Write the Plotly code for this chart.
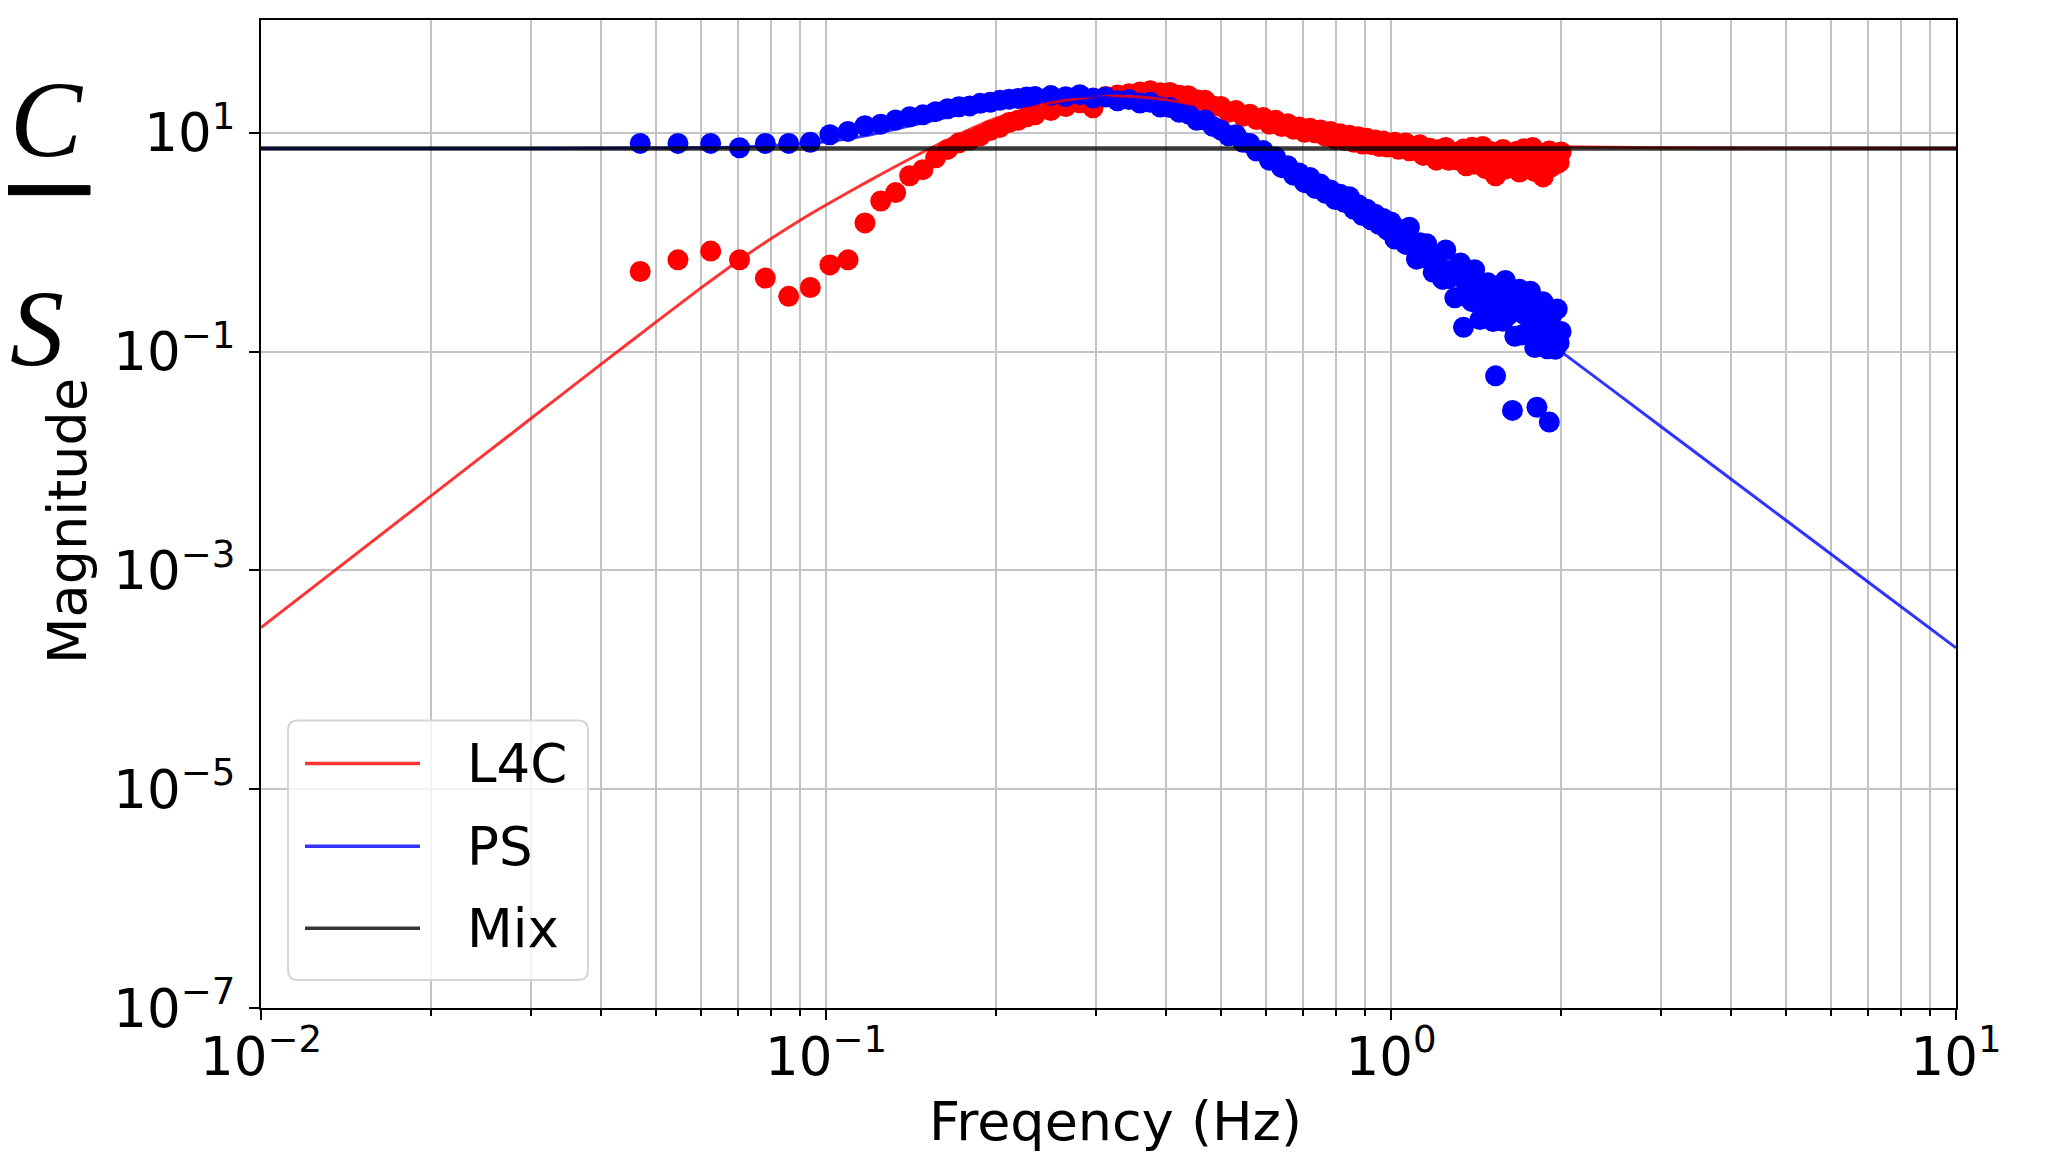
import plotly.graph_objects as go

# ---------------- data ----------------
freq_hz = [
    0.0469, 0.0547, 0.0625, 0.0703, 0.0781, 0.0859, 0.0938, 0.1016, 0.1094, 0.1172,
    0.125, 0.1328, 0.1406, 0.1484, 0.1563, 0.1641, 0.1719, 0.1797, 0.1875, 0.1953,
    0.2031, 0.2109, 0.2188, 0.2266, 0.2344,
    0.25, 0.2656, 0.2813, 0.2969, 0.3125, 0.3281, 0.3438, 0.3594, 0.375, 0.3906,
    0.4063, 0.4219, 0.4375, 0.4531, 0.4688, 0.4844, 0.5, 0.5156, 0.5313, 0.5469,
    0.5625, 0.5781, 0.5938, 0.6094, 0.625, 0.6406, 0.6563, 0.6719, 0.6875, 0.7031,
    0.7188, 0.7344, 0.75, 0.7656, 0.7813, 0.7969, 0.8125, 0.8281, 0.8438, 0.8594,
    0.875, 0.8906, 0.9063, 0.9219, 0.9375, 0.9531, 0.9688, 0.9844,
    1.0, 1.0156, 1.0313, 1.0469, 1.0625, 1.0781, 1.0938, 1.1094, 1.125, 1.1406,
    1.1563, 1.1719, 1.1875, 1.2031, 1.2188, 1.2344, 1.25, 1.2656, 1.2813, 1.2969,
    1.3125, 1.3281, 1.3438, 1.3594, 1.375, 1.3906, 1.4063, 1.4219, 1.4375, 1.4531,
    1.4688, 1.4844, 1.5, 1.5156, 1.5313, 1.5469, 1.5625, 1.5781, 1.5938, 1.6094,
    1.625, 1.6406, 1.6563, 1.6719, 1.6875, 1.7031, 1.7188, 1.7344, 1.75, 1.7656,
    1.7813, 1.7969, 1.8125, 1.8281, 1.8438, 1.8594, 1.875, 1.8906, 1.9063, 1.9219,
    1.9375, 1.9531, 1.9688, 1.9844, 2.0,
]

l4c_measured = [
    0.54, 0.69, 0.83, 0.69, 0.47, 0.32, 0.385, 0.62, 0.69, 1.5,
    2.38, 2.84, 4.05, 4.6, 5.9, 7.05, 8.1, 8.6, 9.4, 10.5,
    11.2, 12.4, 13.0, 14.0, 14.6,
    16.0, 17.4, 18.8, 16.9, 21.5, 22.2, 22.8, 23.6, 24.2, 23.2,
    23.4, 22.0, 21.8, 20.0, 19.8, 17.6, 17.4, 15.4, 16.0, 14.2,
    14.8, 13.2, 13.8, 12.0, 13.0, 11.4, 12.1, 10.8, 11.3, 10.1,
    11.0, 10.0, 10.6, 9.3, 10.3, 8.7, 9.8, 8.5, 9.5, 8.2,
    9.2, 7.9, 8.9, 7.8, 8.6, 7.5, 8.4, 7.4,
    7.64, 8.20, 7.06, 7.64, 8.05, 6.84, 7.46, 6.97, 7.76, 6.21,
    6.84, 7.24, 6.31, 5.62, 7.05, 6.45, 7.35, 5.61, 6.67, 6.03,
    5.64, 5.69, 7.10, 5.00, 6.31, 7.36, 5.16, 6.50, 5.71, 7.50,
    4.70, 5.92, 6.73, 5.30, 4.05, 6.50, 5.69, 7.03, 4.67, 6.11,
    5.33, 4.90, 5.03, 6.78, 4.37, 5.90, 7.14, 4.71, 6.21, 5.40,
    7.33, 4.42, 5.69, 6.52, 5.16, 3.95, 6.35, 5.65, 6.82, 4.89,
    6.12, 5.53, 5.22, 5.36, 6.68,
]

ps_measured = [
    8.0, 8.0, 8.0, 7.3, 8.0, 8.0, 8.2, 9.6, 10.3, 11.6,
    12.0, 13.1, 14.0, 14.6, 15.6, 16.6, 17.3, 17.6, 18.6, 19.0,
    19.8, 20.3, 20.6, 21.2, 21.5,
    21.9, 21.4, 22.3, 20.8, 21.2, 19.6, 20.1, 18.7, 19.0, 17.2,
    17.0, 15.4, 14.9, 13.0, 13.1, 11.4, 10.6, 9.4, 9.6, 8.2,
    8.0, 6.8, 6.9, 5.6, 6.0, 4.8, 5.0, 4.1, 4.3, 3.5,
    3.9, 3.1, 3.4, 2.8, 3.0, 2.45, 2.75, 2.3, 2.6, 2.0,
    2.2, 1.75, 2.0, 1.6, 1.8, 1.45, 1.65, 1.3,
    1.53, 1.07, 1.20, 1.30, 0.955, 1.37, 0.94, 0.70, 0.99, 0.72,
    0.97, 0.74, 0.53, 0.74, 0.59, 0.457, 0.85, 0.465, 0.555, 0.31,
    0.60, 0.644, 0.167, 0.41, 0.49, 0.286, 0.56, 0.30, 0.196, 0.36,
    0.237, 0.425, 0.298, 0.188, 0.060, 0.341, 0.252, 0.189, 0.447, 0.213,
    0.278, 0.029, 0.138, 0.333, 0.371, 0.142, 0.219, 0.293, 0.153, 0.357,
    0.176, 0.109, 0.031, 0.23, 0.142, 0.285, 0.188, 0.106, 0.0227, 0.212,
    0.144, 0.105, 0.245, 0.12, 0.153,
]

l4c_model_freq = [0.01, 0.02, 0.03, 0.04, 0.05, 0.06, 0.07, 0.08, 0.09, 0.1, 0.12, 0.15,
                  0.18, 0.2, 0.25, 0.3, 0.35, 0.4, 0.5, 0.6, 0.7, 0.8, 1.0, 1.3, 1.6, 2.0,
                  3.0, 5.0, 10.0]
l4c_model = [3.0e-4, 4.8e-3, 0.0243, 0.0768, 0.186, 0.38, 0.678, 1.08, 1.59, 2.19, 3.71, 6.85,
             10.8, 13.6, 18.8, 21.3, 21.5, 20.0, 16.0, 13.0, 11.0, 9.8, 8.6, 7.9, 7.6, 7.45,
             7.3, 7.22, 7.2]

ps_model_freq = [0.01, 0.03, 0.05, 0.07, 0.1, 0.12, 0.15, 0.2, 0.25, 0.3, 0.35, 0.4, 0.5,
                 0.6, 0.7, 0.8, 1.0, 1.3, 1.6, 2.0, 3.0, 5.0, 7.0, 10.0]
ps_model = [7.2, 7.2, 7.25, 7.4, 8.3, 9.6, 12.5, 17.5, 21.0, 21.5, 19.5, 16.5, 10.5,
            6.3, 4.0, 2.7, 1.35, 0.52, 0.235, 0.1, 0.0208, 2.87e-3, 7.8e-4, 1.96e-4]

mix_freq = [0.01, 10.0]
mix_model = [7.2, 7.2]

series_names = ["L4C", "PS", "Mix"]
x_tick_vals = [0.01, 0.1, 1, 10]
x_tick_text = ["10<sup>−2</sup>", "10<sup>−1</sup>", "10<sup>0</sup>", "10<sup>1</sup>"]
x_minor_vals = [m * d for d in (0.01, 0.1, 1.0) for m in range(2, 10)]
y_tick_vals = [1e-7, 1e-5, 1e-3, 1e-1, 10]
y_tick_text = ["10<sup>−7</sup>", "10<sup>−5</sup>", "10<sup>−3</sup>", "10<sup>−1</sup>", "10<sup>1</sup>"]

# ---------------- layout geometry (page pixels; page has an 8px body margin) ----------------
OFF = 8
W, H = 2049 - OFF, 1155 - OFF
ML, MR, MT, MB = 261 - OFF, 93, 18 - OFF, 147
PW = W - ML - MR
PH = H - MT - MB


def px(x):
    return (x - OFF - ML) / PW


def py(y):
    return (H - MB - (y - OFF)) / PH


FONT = "DejaVu Sans"
FS = 53
FT = 54
RED_L = "rgba(255,0,0,0.8)"
BLUE_L = "rgba(0,0,255,0.8)"
BLACK_L = "rgba(0,0,0,0.78)"

fig = go.Figure()
fig.add_trace(go.Scatter(x=freq_hz, y=l4c_measured, mode="markers",
                         marker=dict(color="#ff0000", size=21, line=dict(width=0)),
                         showlegend=False, name="L4C data"))
fig.add_trace(go.Scatter(x=freq_hz, y=ps_measured, mode="markers",
                         marker=dict(color="#0000ff", size=21, line=dict(width=0)),
                         showlegend=False, name="PS data"))
fig.add_trace(go.Scatter(x=l4c_model_freq, y=l4c_model, mode="lines",
                         line=dict(color=RED_L, width=3, shape="spline", smoothing=0.6),
                         showlegend=False, name=series_names[0]))
fig.add_trace(go.Scatter(x=ps_model_freq, y=ps_model, mode="lines",
                         line=dict(color=BLUE_L, width=3, shape="spline", smoothing=0.6),
                         showlegend=False, name=series_names[1]))
fig.add_trace(go.Scatter(x=mix_freq, y=mix_model, mode="lines",
                         line=dict(color=BLACK_L, width=4.5),
                         showlegend=False, name=series_names[2]))

grid_c = "#c4c4c4"
fig.update_xaxes(type="log", range=[-2, 1], tickmode="array", tickvals=x_tick_vals,
                 ticktext=x_tick_text, ticks="outside", ticklen=10, tickwidth=2,
                 tickcolor="black", showgrid=True, gridcolor=grid_c, gridwidth=2,
                 showline=True, linecolor="black", linewidth=2, mirror=True,
                 tickfont=dict(family=FONT, size=FS, color="black"),
                 ticklabelstandoff=-9,
                 minor=dict(tickmode="array", tickvals=x_minor_vals, ticks="outside",
                            ticklen=6, tickwidth=1.5, tickcolor="black", showgrid=True,
                            gridcolor=grid_c, gridwidth=2),
                 zeroline=False)
fig.update_yaxes(type="log", range=[-7, 2.031], tickmode="array", tickvals=y_tick_vals,
                 ticktext=y_tick_text, ticks="outside", ticklen=10, tickwidth=2,
                 tickcolor="black", showgrid=True, gridcolor=grid_c, gridwidth=2,
                 showline=True, linecolor="black", linewidth=2, mirror=True,
                 tickfont=dict(family=FONT, size=FS, color="black"),
                 ticklabelstandoff=3, zeroline=False)

# ---------------- custom legend ----------------
shapes = []
lx0, lx1, ly0, ly1 = px(288), px(588), py(980), py(720)
rx, ry = 10 / PW, 10 / PH
path = (f"M {lx0+rx},{ly0} L {lx1-rx},{ly0} Q {lx1},{ly0} {lx1},{ly0+ry} "
        f"L {lx1},{ly1-ry} Q {lx1},{ly1} {lx1-rx},{ly1} L {lx0+rx},{ly1} "
        f"Q {lx0},{ly1} {lx0},{ly1-ry} L {lx0},{ly0+ry} Q {lx0},{ly0} {lx0+rx},{ly0} Z")
shapes.append(dict(type="path", path=path, xref="paper", yref="paper",
                   fillcolor="rgba(255,255,255,0.8)", line=dict(color="#d6d6d6", width=2),
                   layer="above"))
annotations = []
for name, col, yy in zip(series_names, [RED_L, BLUE_L, BLACK_L], [763, 846, 928]):
    shapes.append(dict(type="line", xref="paper", yref="paper", x0=px(305), x1=px(420),
                       y0=py(yy), y1=py(yy), line=dict(color=col, width=3.5), layer="above"))
    annotations.append(dict(text=name, xref="paper", yref="paper", x=px(465), y=py(yy),
                            xanchor="left", yanchor="middle", showarrow=False,
                            font=dict(family=FONT, size=FS, color="black")))

# axis titles
annotations.append(dict(text="Magnitude", xref="paper", yref="paper", x=px(68), y=py(520),
                        xanchor="center", yanchor="middle", textangle=-90, showarrow=False,
                        font=dict(family=FONT, size=FT, color="black")))
annotations.append(dict(text="Freqency (Hz)", xref="paper", yref="paper", x=px(1115), y=py(1122),
                        xanchor="center", yanchor="middle", showarrow=False,
                        font=dict(family=FONT, size=FT, color="black")))

# fraction at the left edge
annotations.append(dict(text="<i>C</i>", xref="paper", yref="paper", x=px(OFF), y=py(118),
                        xanchor="left", yanchor="middle", showarrow=False,
                        font=dict(family="Liberation Serif", size=108, color="black")))
annotations.append(dict(text="<i>S</i>", xref="paper", yref="paper", x=px(OFF), y=py(327),
                        xanchor="left", yanchor="middle", showarrow=False,
                        font=dict(family="Liberation Serif", size=108, color="black")))
bx0, bx1, by0, by1 = px(OFF), px(90), py(193), py(184)
shapes.append(dict(type="path", xref="paper", yref="paper",
                   path=f"M {bx0},{by0} L {bx1},{by0} L {bx1},{by1} L {bx0},{by1} Z",
                   fillcolor="black", line=dict(color="black", width=1), layer="above"))

fig.update_layout(width=W, height=H, margin=dict(l=ML, r=MR, t=MT, b=MB, pad=0),
                  autosize=False, paper_bgcolor="white", plot_bgcolor="white",
                  shapes=shapes, annotations=annotations, showlegend=False)

fig.write_html("out.html")
